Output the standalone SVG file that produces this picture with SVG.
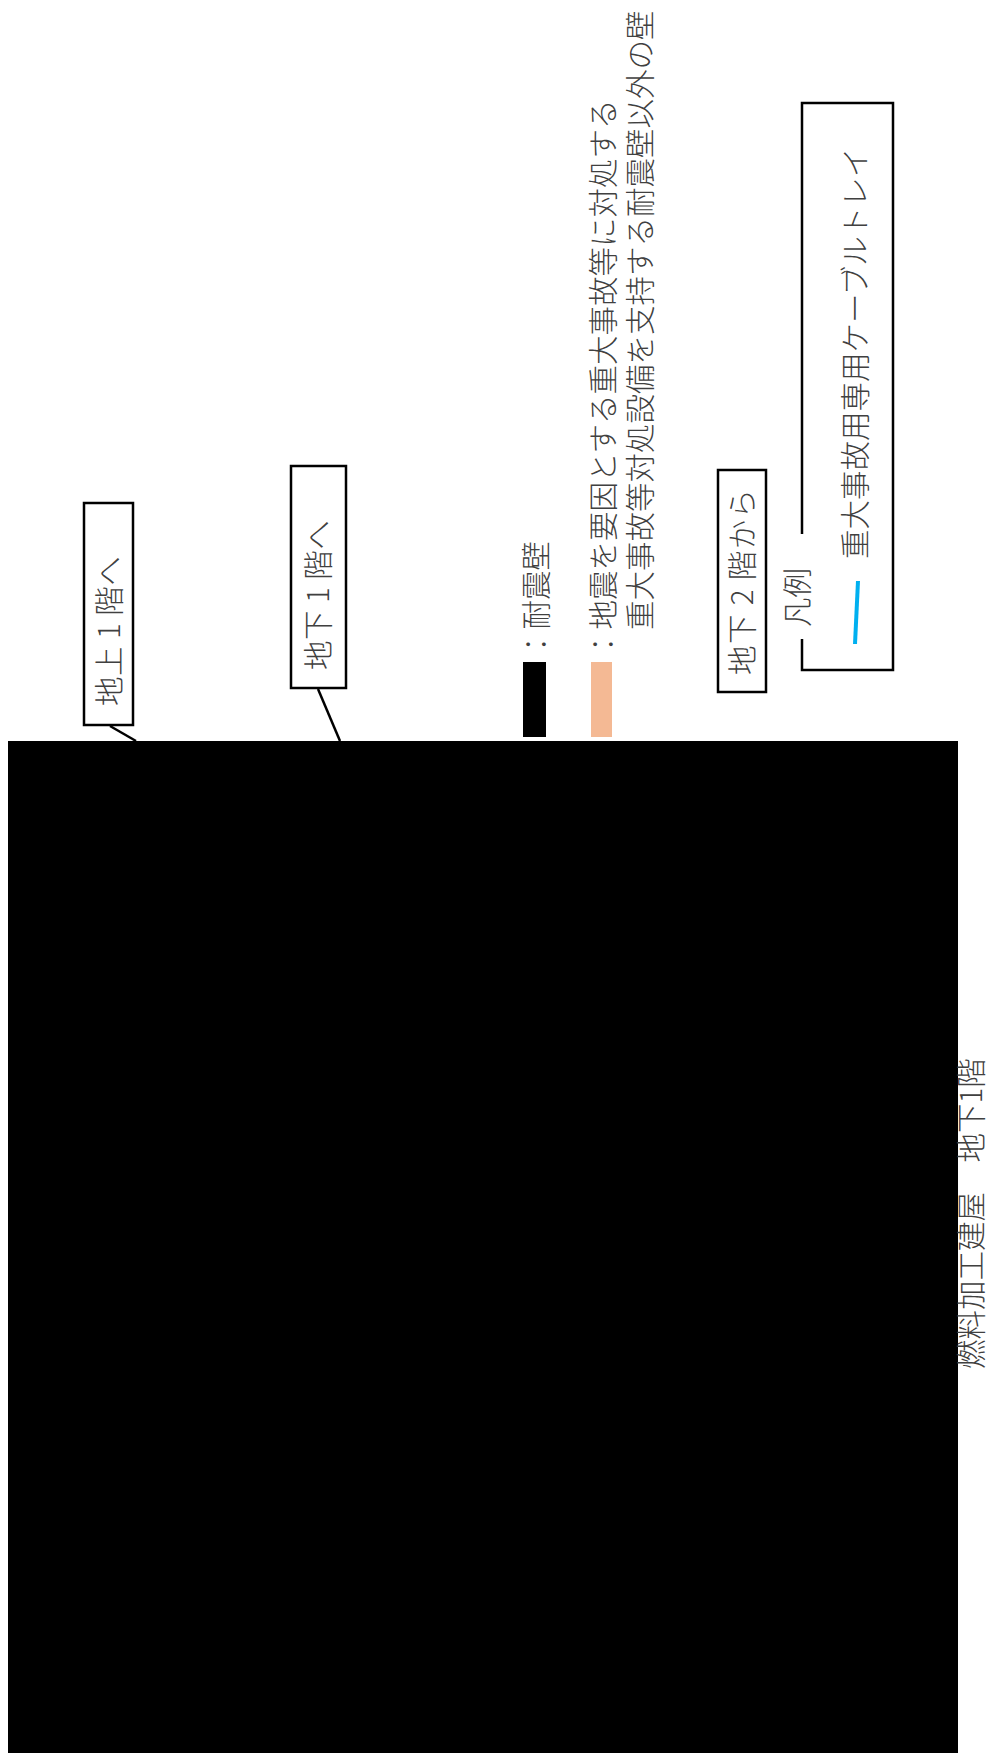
<svg xmlns="http://www.w3.org/2000/svg" width="988" height="1753" viewBox="0 0 988 1753">
<style>
text{font-family:"Noto Sans CJK JP","Noto Sans JP",sans-serif;font-size:29.5px;fill:#404040;font-weight:300}
.lab{letter-spacing:.5px}
.lab2{letter-spacing:1.4px}
.box{fill:#fff;stroke:#000;stroke-width:2.5}
.conn{fill:none;stroke:#000;stroke-width:2.5}
</style>
<rect width="988" height="1753" fill="#fff"/>
<g id="connectors">
<path class="conn" d="M110 726L136 741"/>
<path class="conn" d="M318 689L340 741"/>
</g>
<g id="masked-plan"><rect x="8" y="741" width="950" height="1012" fill="#000"/></g>
<g id="node-b1f-up"><rect class="box" x="84" y="503" width="49" height="222"/><text class="lab" transform="translate(120,706) rotate(-90)">地上 1 階へ</text></g>
<g id="node-b1-up"><rect class="box" x="291" y="466" width="55" height="222"/><text class="lab" transform="translate(329,670) rotate(-90)">地下 1 階へ</text></g>
<g id="legend-seismic"><rect x="523" y="662" width="23" height="75" fill="#000"/><text transform="translate(547,659) rotate(-90)">：耐震壁</text></g>
<g id="legend-sa-wall"><rect x="591" y="662" width="21" height="75" fill="#f4b994"/>
<text transform="translate(614,659) rotate(-90)">：地震を要因とする重大事故等に対処する</text>
<text transform="translate(651,630) rotate(-90)">重大事故等対処設備を支持する耐震壁以外の壁</text></g>
<g id="node-b2-from"><rect class="box" x="718" y="470" width="48" height="222"/><text class="lab2" transform="translate(753,675) rotate(-90)">地下 2 階から</text></g>
<g id="legend"><path class="box" style="fill:none" d="M802 534V103H893V670H802V639"/>
<text transform="translate(808,627) rotate(-90)">凡例</text>
<path d="M858 581L855 644" stroke="#00b0f0" stroke-width="4" fill="none"/>
<text transform="translate(866,559) rotate(-90)">重大事故用専用ケーブルトレイ</text></g>
<g id="title"><text transform="translate(982,1369) rotate(-90)">燃料加工建屋　地下1階</text></g>
</svg>
